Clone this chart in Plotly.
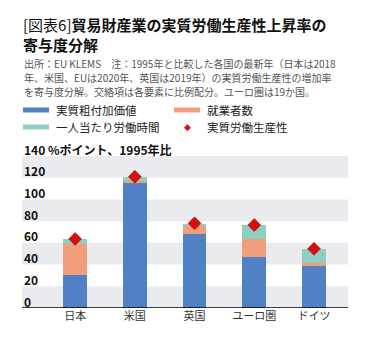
import plotly.graph_objects as go

categories = ["日本", "米国", "英国", "ユーロ圏", "ドイツ"]
value_added = [30.0, 115.0, 68.3, 47.4, 39.0]
employment = [29.2, 2.1, 8.0, 16.0, 2.8]
hours = [4.4, 3.9, 1.2, 13.2, 12.7]
productivity = [63.6, 121.0, 78.0, 76.5, 54.5]
y_ticks = [0, 20, 40, 60, 80, 100, 120, 140]
y_ticktext = ["0", "20", "40", "60", "80", "100", "120", "140 %ポイント、1995年比"]

series_names = ["実質粗付加価値", "就業者数", "一人当たり労働時間", "実質労働生産性"]
colors = ["#4f81c4", "#f29e7c", "#8ecfc2", "#d40f12"]

FONT = "Noto Sans CJK JP"
W, H = 370, 340
PL, PR, PT, PB = 22, 348, 156, 308  # plot area in px


def px_x(px):
    return (px - PL) / (PR - PL)


def px_y(py):
    return (PB - py) / (PB - PT)


fig = go.Figure()
for vals, name, col in zip([value_added, employment, hours], series_names[:3], colors[:3]):
    fig.add_trace(go.Bar(x=categories, y=vals, name=name, marker=dict(color=col, line=dict(width=0)),
                         width=0.4, showlegend=False))
fig.add_trace(go.Scatter(x=categories, y=productivity, mode="markers", name=series_names[3],
                         marker=dict(symbol="diamond", size=10, color=colors[3],
                                     line=dict(width=0.5, color="#b00000")), showlegend=False))

shapes = []
# alternating bands
for i in range(0, len(y_ticks) - 1, 2):
    shapes.append(dict(type="rect", xref="paper", yref="y", x0=0, x1=1, y0=y_ticks[i], y1=y_ticks[i + 1],
                       fillcolor="#e9ebee", line=dict(width=0), layer="below"))
# baseline
shapes.append(dict(type="line", xref="paper", yref="y", x0=0, x1=1, y0=0, y1=0,
                   line=dict(color="#000000", width=1.5), layer="above"))

annotations = []
# y tick labels (sitting just above each gridline)
for v, t in zip(y_ticks, y_ticktext):
    annotations.append(dict(xref="paper", yref="y", x=0, y=v, xanchor="left", yanchor="middle", yshift=7,
                            text="<b>" + t + "</b>", showarrow=False,
                            font=dict(family=FONT, size=12, color="#111111")))
# title (two lines in one block)
annotations.append(dict(xref="paper", yref="paper", x=px_x(21), y=px_y(34.5), xanchor="left", yanchor="middle",
                        align="left",
                        text="[図表6]<b>貿易財産業の実質労働生産性上昇率の</b><br><b>寄与度分解</b>",
                        showarrow=False, font=dict(family=FONT, size=15, color="#111111")))
notes = ["出所：EU KLEMS　注：1995年と比較した各国の最新年（日本は2018",
         "年、米国、EUは2020年、英国は2019年）の実質労働生産性の増加率",
         "を寄与度分解。交絡項は各要素に比例配分。ユーロ圏は19か国。"]
for i, t in enumerate(notes):
    annotations.append(dict(xref="paper", yref="paper", x=px_x(22), y=px_y(63.5 + 14 * i), xanchor="left",
                            yanchor="middle", text=t, showarrow=False,
                            font=dict(family=FONT, size=10, color="#555555")))

# legend (manual)
leg = [(23, 110, 0), (174, 110, 1), (23, 127, 2), (174, 127, 3)]
for (lx, ly, k) in leg:
    if k < 3:
        shapes.append(dict(type="rect", xref="paper", yref="paper", x0=px_x(lx), x1=px_x(lx + 26),
                           y0=px_y(ly + 2.5), y1=px_y(ly - 2.5), fillcolor=colors[k], line=dict(width=0)))
    else:
        annotations.append(dict(xref="paper", yref="paper", x=px_x(188), y=px_y(ly), xanchor="center",
                                yanchor="middle", text="◆", showarrow=False,
                                font=dict(family="DejaVu Sans", size=9, color=colors[3])))
    annotations.append(dict(xref="paper", yref="paper", x=px_x(lx + 31), y=px_y(ly), xanchor="left",
                            yanchor="middle", text=series_names[k], showarrow=False,
                            font=dict(family=FONT, size=11.5, color="#222222")))

fig.update_layout(
    width=W, height=H,
    margin=dict(l=PL, r=W - PR, t=PT, b=H - PB),
    paper_bgcolor="white", plot_bgcolor="white",
    barmode="stack", bargap=0,
    showlegend=False,
    shapes=shapes, annotations=annotations,
    xaxis=dict(type="category", range=[-0.89, 4.57], showgrid=False, zeroline=False, showline=False,
               ticks="", tickfont=dict(family=FONT, size=11, color="#333333"), fixedrange=True),
    yaxis=dict(range=[0, 140], showticklabels=False, showgrid=False, zeroline=False, showline=False,
               ticks=""),
)

fig.write_html("out.html")
